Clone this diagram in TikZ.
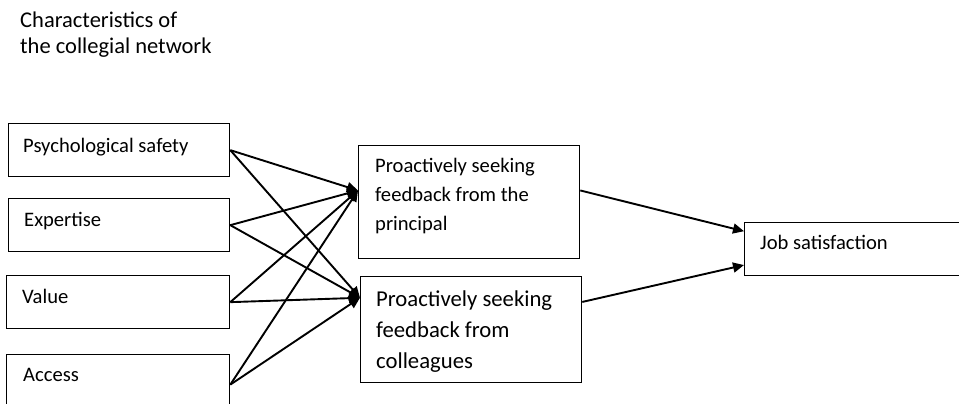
\documentclass[tikz,border=0pt]{standalone}
\usepackage{fontspec}
\setmainfont{Carlito}
\usetikzlibrary{arrows.meta}

\begin{document}
\begin{tikzpicture}[x=1pt, y=-1pt, box/.style={draw, line width=1.3pt, anchor=north west, inner sep=0pt}, txt/.style={anchor=base west, inner sep=0pt, align=left, font=\fontsize{20.6}{29}\selectfont}]
    \useasboundingbox (0,0) rectangle (959,404);
    \node[txt, font=\fontsize{22.5}{26}\selectfont] (title) at (20,54) {Characteristics of\\the collegial network};

    \node[box, minimum width=221, minimum height=53] (psy) at (8,123) {};
    \node[box, minimum width=221, minimum height=53] (exp) at (8,198) {};
    \node[box, minimum width=223, minimum height=53] (val) at (6,275) {};
    \node[box, minimum width=223, minimum height=60] (acc) at (6,354) {};
    \node[box, minimum width=221, minimum height=113] (pri) at (358,145) {};
    \node[box, minimum width=221, minimum height=106] (col) at (360,276) {};
    \node[box, minimum width=225, minimum height=53] (job) at (744,222) {};

    \node[txt] (psyt) at (23,152) {Psychological safety};
    \node[txt] (expt) at (24,226) {Expertise};
    \node[txt] (valt) at (22,303) {Value};
    \node[txt] (acct) at (23,381) {Access};
    \node[txt] (prit) at (375,230) {Proactively seeking\\feedback from the\\principal};
    \node[txt, font=\fontsize{22.7}{31}\selectfont] (colt) at (376,368) {Proactively seeking\\feedback from\\colleagues};
    \node[txt] (jobt) at (760,249) {Job satisfaction};

   \begin{scope}[-{Triangle[length=11pt,width=10pt]}, line width=1.9pt]
    \draw (psy.east) to (pri.174) ;
    \draw (psy.east) to (col.164) ;
    \draw (exp.east) to (pri.174) ;
    \draw (exp.east) to (col.164) ;
    \draw (val.east) to (pri.174) ;
    \draw (val.east) to (col.164) ;
    \draw (acc.east) to (pri.174) ;
    \draw (acc.east) to (col.164) ;
    \draw (pri.6) to (job.171) ;
    \draw (col.14) to (job.188) ;
   \end{scope}
\end{tikzpicture}
\end{document}
